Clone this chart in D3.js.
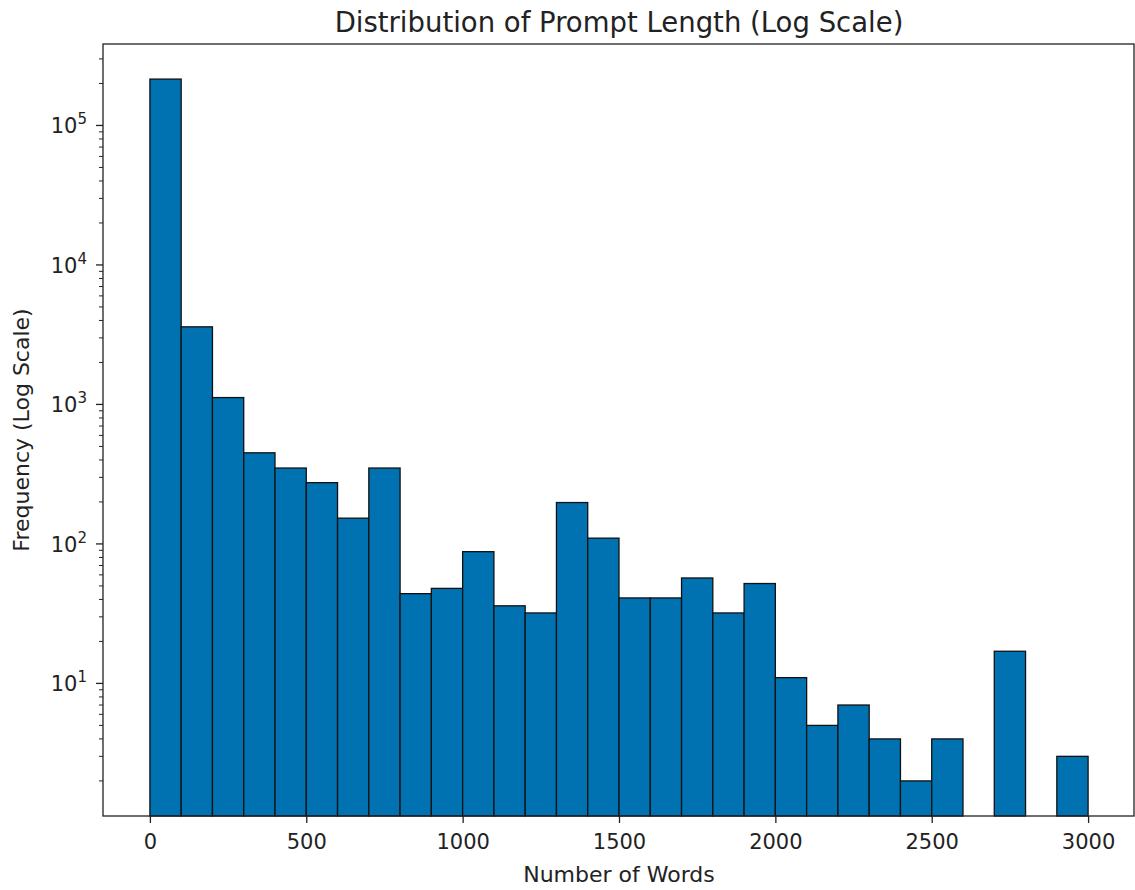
<!DOCTYPE html>
<html>
<head>
<meta charset="utf-8">
<script src="https://cdn.jsdelivr.net/npm/d3@7"></script>
<style>
  body { margin: 0; background: #fff; }
  svg text { font-family: "DejaVu Sans", sans-serif; fill: #222; }
</style>
</head>
<body>
<div id="chart"></div>
<script>
// histogram bins: 30 bins of 100 words each, 0..3000
var binEdges = d3.range(0, 3001, 100);
var counts = [215000, 3600, 1120, 450, 350, 275, 153, 350, 44, 48,
              88, 36, 32, 198, 110, 41, 41, 57, 32, 52,
              11, 5, 7, 4, 2, 4, 0, 17, 0, 3];
var xTicks = [0, 500, 1000, 1500, 2000, 2500, 3000];
var yTicks = [10, 100, 1000, 10000, 100000];

var width = 1135, height = 890;
// plot box (note: "top" is reserved on window, so use a prefix)
var plotLeft = 103, plotRight = 1135, plotTop = 44, plotBottom = 816;

var svg = d3.select("#chart").append("svg")
    .attr("width", width)
    .attr("height", height);

// matplotlib style 5% padding
var xscale = d3.scaleLinear().domain([-150, 3150]).range([plotLeft, plotRight]);

var nz = counts.filter(function(d) { return d > 0; });
var lmin = Math.log10(d3.min(nz)), lmax = Math.log10(d3.max(nz));
var pad = (lmax - lmin) * 0.05;
var yscale = d3.scaleLog()
    .domain([Math.pow(10, lmin - pad), Math.pow(10, lmax + pad)])
    .range([plotBottom, plotTop]);

var bins = counts.map(function(c, i) {
  return { x0: binEdges[i], x1: binEdges[i + 1], count: c };
}).filter(function(d) { return d.count > 0; });

svg.append("g").selectAll("rect")
    .data(bins)
    .enter().append("rect")
    .attr("x", function(d) { return xscale(d.x0); })
    .attr("width", function(d) { return xscale(d.x1) - xscale(d.x0); })
    .attr("y", function(d) { return yscale(d.count); })
    .attr("height", function(d) { return plotBottom - yscale(d.count); })
    .attr("fill", "#0072b2")
    .attr("stroke", "#111")
    .attr("stroke-width", 1.3);

// x axis
var xAxis = d3.axisBottom(xscale).tickValues(xTicks).tickSize(7).tickPadding(11).tickFormat(d3.format("d"));
var gx = svg.append("g")
    .attr("transform", "translate(0," + plotBottom + ")")
    .call(xAxis);
gx.select(".domain").remove();
gx.selectAll(".tick line").attr("stroke", "#222").attr("stroke-width", 1.3);
gx.selectAll(".tick text")
    .attr("font-size", 21)
    .attr("font-family", "DejaVu Sans")
    .attr("fill", "#222");

// y axis: minor ticks
var minor = [];
var d0 = yscale.domain();
for (var e = 0; e <= 5; e++) {
  for (var m = 2; m <= 9; m++) {
    var v = m * Math.pow(10, e);
    if (v >= d0[0] && v <= d0[1]) minor.push(v);
  }
}
svg.append("g").selectAll("line.minor")
    .data(minor)
    .enter().append("line")
    .attr("class", "minor")
    .attr("x1", plotLeft - 4).attr("x2", plotLeft)
    .attr("y1", function(d) { return yscale(d); })
    .attr("y2", function(d) { return yscale(d); })
    .attr("stroke", "#222").attr("stroke-width", 1);

var gy = svg.append("g");
gy.selectAll("line.major")
    .data(yTicks)
    .enter().append("line")
    .attr("x1", plotLeft - 7).attr("x2", plotLeft)
    .attr("y1", function(d) { return yscale(d); })
    .attr("y2", function(d) { return yscale(d); })
    .attr("stroke", "#222").attr("stroke-width", 1.3);

var ylab = gy.selectAll("text.ytick")
    .data(yTicks)
    .enter().append("text")
    .attr("class", "ytick")
    .attr("x", plotLeft - 16)
    .attr("y", function(d) { return yscale(d) + 8; })
    .attr("text-anchor", "end")
    .attr("font-size", 21);
ylab.append("tspan").text("10");
ylab.append("tspan")
    .attr("dy", -9)
    .attr("font-size", 15)
    .text(function(d) { return Math.round(Math.log10(d)); });

// frame
svg.append("rect")
    .attr("x", plotLeft).attr("y", plotTop)
    .attr("width", plotRight - 1 - plotLeft).attr("height", plotBottom - plotTop)
    .attr("fill", "none")
    .attr("stroke", "#222")
    .attr("stroke-width", 1.3);

// labels
svg.append("text")
    .attr("x", (plotLeft + plotRight) / 2)
    .attr("y", 32)
    .attr("text-anchor", "middle")
    .attr("font-size", 27.5)
    .text("Distribution of Prompt Length (Log Scale)");

svg.append("text")
    .attr("x", (plotLeft + plotRight) / 2)
    .attr("y", 882)
    .attr("text-anchor", "middle")
    .attr("font-size", 22)
    .text("Number of Words");

svg.append("text")
    .attr("transform", "translate(29," + ((plotTop + plotBottom) / 2) + ") rotate(-90)")
    .attr("text-anchor", "middle")
    .attr("font-size", 22)
    .text("Frequency (Log Scale)");
</script>
</body>
</html>
